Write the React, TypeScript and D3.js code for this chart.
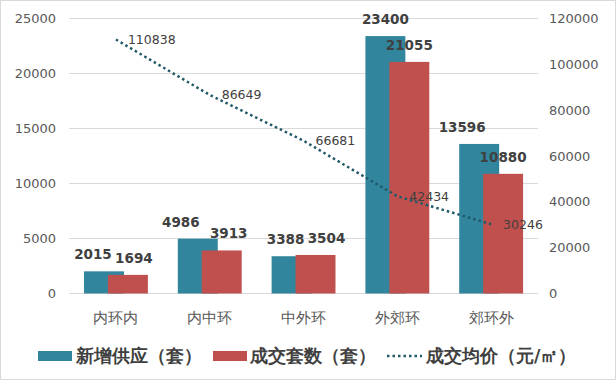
import React from "react";
import * as d3 from "d3";

const categories = ["内环内", "内中环", "中外环", "外郊环", "郊环外"];
const supply = [2015, 4986, 3388, 23400, 13596];
const deals = [1694, 3913, 3504, 21055, 10880];
const avgPrice = [110838, 86649, 66681, 42434, 30246];
const leftTicks = [0, 5000, 10000, 15000, 20000, 25000];
const rightTicks = [0, 20000, 40000, 60000, 80000, 100000, 120000];
const seriesNames = ["新增供应（套）", "成交套数（套）", "成交均价（元/㎡）"];

// label nudges (px) as placed in the original
const supplyLabelDx = [-11, -17, -6, 0, -17];
const dealsLabelDx = [6, 7, 11, 0, 0];

const W = 616;
const H = 380;
const BLUE = "#31859C";
const RED = "#C0504D";
const LINE = "#215968";
const FONT = "'DejaVu Sans', sans-serif";

export default function App() {
  const x = d3.scaleBand<string>().domain(categories).range([69, 538]).paddingInner(0).paddingOuter(0);
  const bw = x.bandwidth();
  const yL = d3.scaleLinear().domain([0, 25000]).range([293.5, 18.5]);
  const yR = d3.scaleLinear().domain([0, 120000]).range([293.5, 18.5]);
  const barW = bw * 0.426;
  const center = (c: string) => (x(c) as number) + bw / 2;
  const blueX = (c: string) => center(c) - bw * 0.34;
  const redX = (c: string) => center(c) - bw * 0.085;

  const line = d3
    .line<number>()
    .x((_, i) => center(categories[i]))
    .y((d) => yR(d));

  return (
    <div style={{ position: "absolute", left: 0, top: 0 }}>
      <svg width={W} height={H} style={{ display: "block", fontFamily: FONT }}>
        <rect x={0} y={0} width={W} height={H} fill="#fff" />
        <rect x={0.5} y={0.5} width={W - 1} height={H - 1} fill="none" stroke="#D9D9D9" />
        {leftTicks.map((t) => (
          <g key={t}>
            <line x1={69} x2={538} y1={yL(t)} y2={yL(t)} stroke="#D9D9D9" strokeWidth={1} />
            <text x={56} y={yL(t)} dy="0.35em" textAnchor="end" fontSize={13} fill="#595959">
              {t}
            </text>
          </g>
        ))}
        {rightTicks.map((t) => (
          <text key={t} x={549} y={yR(t)} dy="0.35em" textAnchor="start" fontSize={13} fill="#595959">
            {t}
          </text>
        ))}
        {categories.map((c, i) => (
          <g key={c}>
            <rect x={blueX(c)} y={yL(supply[i])} width={barW} height={yL(0) - yL(supply[i])} fill={BLUE} />
            <rect x={redX(c)} y={yL(deals[i])} width={barW} height={yL(0) - yL(deals[i])} fill={RED} />
            <text x={blueX(c) + barW / 2 + supplyLabelDx[i]} y={yL(supply[i]) - 12} textAnchor="middle" fontSize={13.5} fontWeight="bold" fill="#404040">
              {supply[i]}
            </text>
            <text x={redX(c) + barW / 2 + dealsLabelDx[i]} y={yL(deals[i]) - 12} textAnchor="middle" fontSize={13.5} fontWeight="bold" fill="#404040">
              {deals[i]}
            </text>
            <text x={center(c)} y={318} dy="0.35em" textAnchor="middle" fontSize={14.5} fill="#595959">
              {c}
            </text>
          </g>
        ))}
        <path d={line(avgPrice) || ""} fill="none" stroke={LINE} strokeWidth={2.5} strokeDasharray="2.5 3" />
        {avgPrice.map((v, i) => (
          <text key={i} x={center(categories[i]) + 12} y={yR(v)} dy="0.35em" fontSize={12.5} fill="#404040">
            {v}
          </text>
        ))}
        <g>
          <rect x={38} y={351} width={34} height={10} fill={BLUE} />
          <text x={76} y={356} dy="0.35em" fontSize={17.5} fill="#404040" fontWeight="bold">
            {seriesNames[0]}
          </text>
          <rect x={213} y={351} width={34} height={10} fill={RED} />
          <text x={250} y={356} dy="0.35em" fontSize={17.5} fill="#404040" fontWeight="bold">
            {seriesNames[1]}
          </text>
          <line x1={387} x2={422} y1={356} y2={356} stroke={LINE} strokeWidth={2.5} strokeDasharray="2.5 3" />
          <text x={426} y={356} dy="0.35em" fontSize={17.5} fill="#404040" fontWeight="bold">
            {seriesNames[2]}
          </text>
        </g>
      </svg>
    </div>
  );
}
